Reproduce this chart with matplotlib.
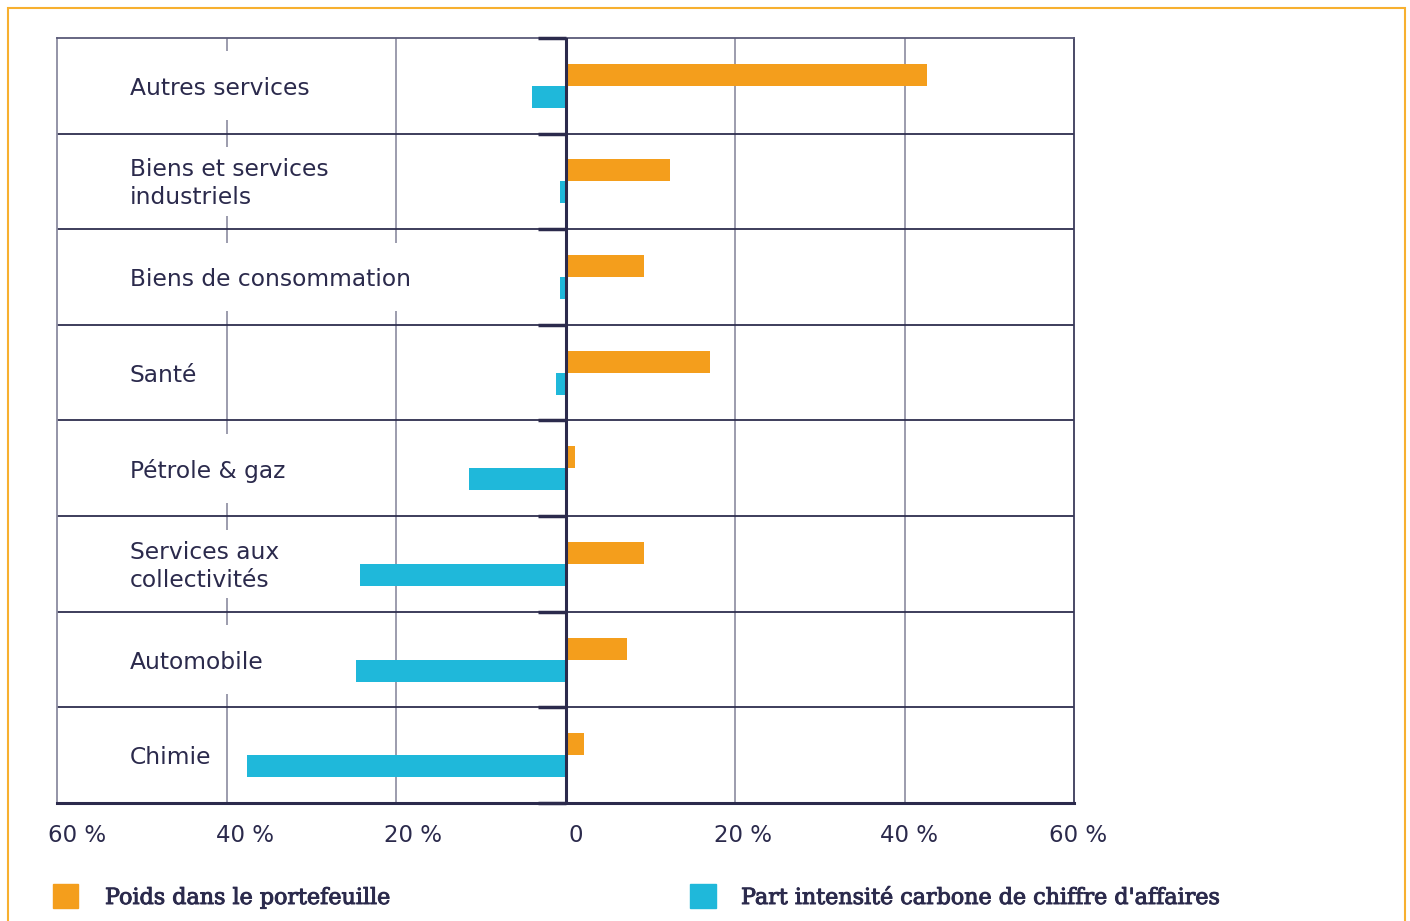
import matplotlib
matplotlib.use("Agg")
import matplotlib.pyplot as plt
from matplotlib.patches import Rectangle
from matplotlib.transforms import ScaledTranslation
import matplotlib.patheffects as pe
import numpy as np

# ---------------- data ----------------
categories = ["Autres services", "Biens et services\nindustriels", "Biens de consommation",
              "Santé", "Pétrole & gaz", "Services aux\ncollectivités", "Automobile", "Chimie"]
poids = [42.6, 12.3, 9.3, 17.0, 1.1, 9.3, 7.3, 2.2]
carbone = [-4.0, -0.6, -0.6, -1.1, -11.4, -24.2, -24.7, -37.6]
xticks = [-60, -40, -20, 0, 20, 40, 60]
xticklabels = ["60 %", "40 %", "20 %", "0", "20 %", "40 %", "60 %"]
legend_labels = ["Poids dans le portefeuille", "Part intensité carbone de chiffre d'affaires"]

# ---------------- style ----------------
ORANGE = "#F49E1C"
BLUE = "#1FB8DA"
NAVY = "#2B2A4C"
GRID = "#8B8BA0"
FRAME = "#F7B02F"
SANS = ["DejaVu Sans"]
SERIF = ["DejaVu Serif"]

W, H = 1410, 921
fig = plt.figure(figsize=(W / 100, H / 100), dpi=100)
fig.patch.set_facecolor("white")

L, R, T, B = 57, 1074, 38, 803
ax = fig.add_axes([L / W, (H - B) / H, (R - L) / W, (B - T) / H])

n = len(categories)
ypos = np.arange(n) + 0.5
bh = 0.23
ax.barh(ypos - bh / 2, poids, height=bh, color=ORANGE, zorder=3)
ax.barh(ypos + bh / 2, carbone, height=bh, color=BLUE, zorder=3)

ax.set_xlim(-60, 60)
ax.set_ylim(n, 0)

for x in [-40, -20, 20, 40]:
    ax.axvline(x, color=GRID, lw=1.2, zorder=1)
for b in range(1, n):
    ax.axhline(b, color="#2E2E4E", lw=1.3, zorder=1.5)
ax.axvline(0, color=NAVY, lw=2.2, zorder=4)
ax.hlines(np.arange(n + 1), -3.2, 0, color=NAVY, lw=2.5, zorder=4, clip_on=False)

ax.spines["left"].set_color(GRID)
ax.spines["left"].set_linewidth(1.3)
ax.spines["top"].set_color("#5A5A78")
ax.spines["top"].set_linewidth(1.3)
ax.spines["right"].set_color("#3A3A5A")
ax.spines["right"].set_linewidth(1.3)
ax.spines["bottom"].set_color(NAVY)
ax.spines["bottom"].set_linewidth(2.2)

ax.set_yticks([])
ax.set_xticks(xticks)
ax.set_xticklabels(xticklabels, fontfamily=SANS, fontsize=16.5, color=NAVY)
ax.tick_params(axis="x", length=0, pad=15)
offsets = [20, 19, 17, 10, 8, 5, 4]
for lab, dx in zip(ax.get_xticklabels(), offsets):
    lab.set_transform(lab.get_transform() + ScaledTranslation(dx / 100, 0, fig.dpi_scale_trans))

# category labels inside the plot with white boxes
down = ScaledTranslation(0, -2.5 / 100, fig.dpi_scale_trans)
texts = []
for y, c in zip(ypos, categories):
    t = ax.text(-51.4, y, c, ha="left", va="center", fontfamily=SANS, fontsize=16.8,
                color=NAVY, linespacing=1.28, zorder=3, transform=ax.transData + down)
    texts.append(t)

fig.canvas.draw()
inv = ax.transData.inverted()
for t, y in zip(texts, ypos):
    bb = t.get_window_extent()
    x0 = inv.transform((bb.x0 - 8, 0))[0]
    x1 = inv.transform((bb.x1 + 8, 0))[0]
    ax.add_patch(Rectangle((x0, y - 0.36), x1 - x0, 0.72, facecolor="white",
                           edgecolor="none", zorder=1.8))

# legend
thick = [pe.withStroke(linewidth=0.7, foreground=NAVY)]
fig.patches.append(Rectangle((53 / W, (H - 908) / H), 25 / W, 24 / H, color=ORANGE,
                             transform=fig.transFigure))
fig.text(105 / W, (H - 898) / H, legend_labels[0], fontfamily=SERIF, fontsize=16,
         color=NAVY, va="center", ha="left", path_effects=thick)
fig.patches.append(Rectangle((690 / W, (H - 908) / H), 26 / W, 24 / H, color=BLUE,
                             transform=fig.transFigure))
fig.text(741 / W, (H - 898) / H, legend_labels[1], fontfamily=SERIF, fontsize=16,
         color=NAVY, va="center", ha="left", path_effects=thick)

# outer frame
fig.patches.append(Rectangle((8 / W, -0.05), (1405 - 8) / W, (H - 8) / H + 0.05,
                             transform=fig.transFigure, fill=False, edgecolor=FRAME, lw=1.5))

fig.savefig("out.png", dpi=100)
